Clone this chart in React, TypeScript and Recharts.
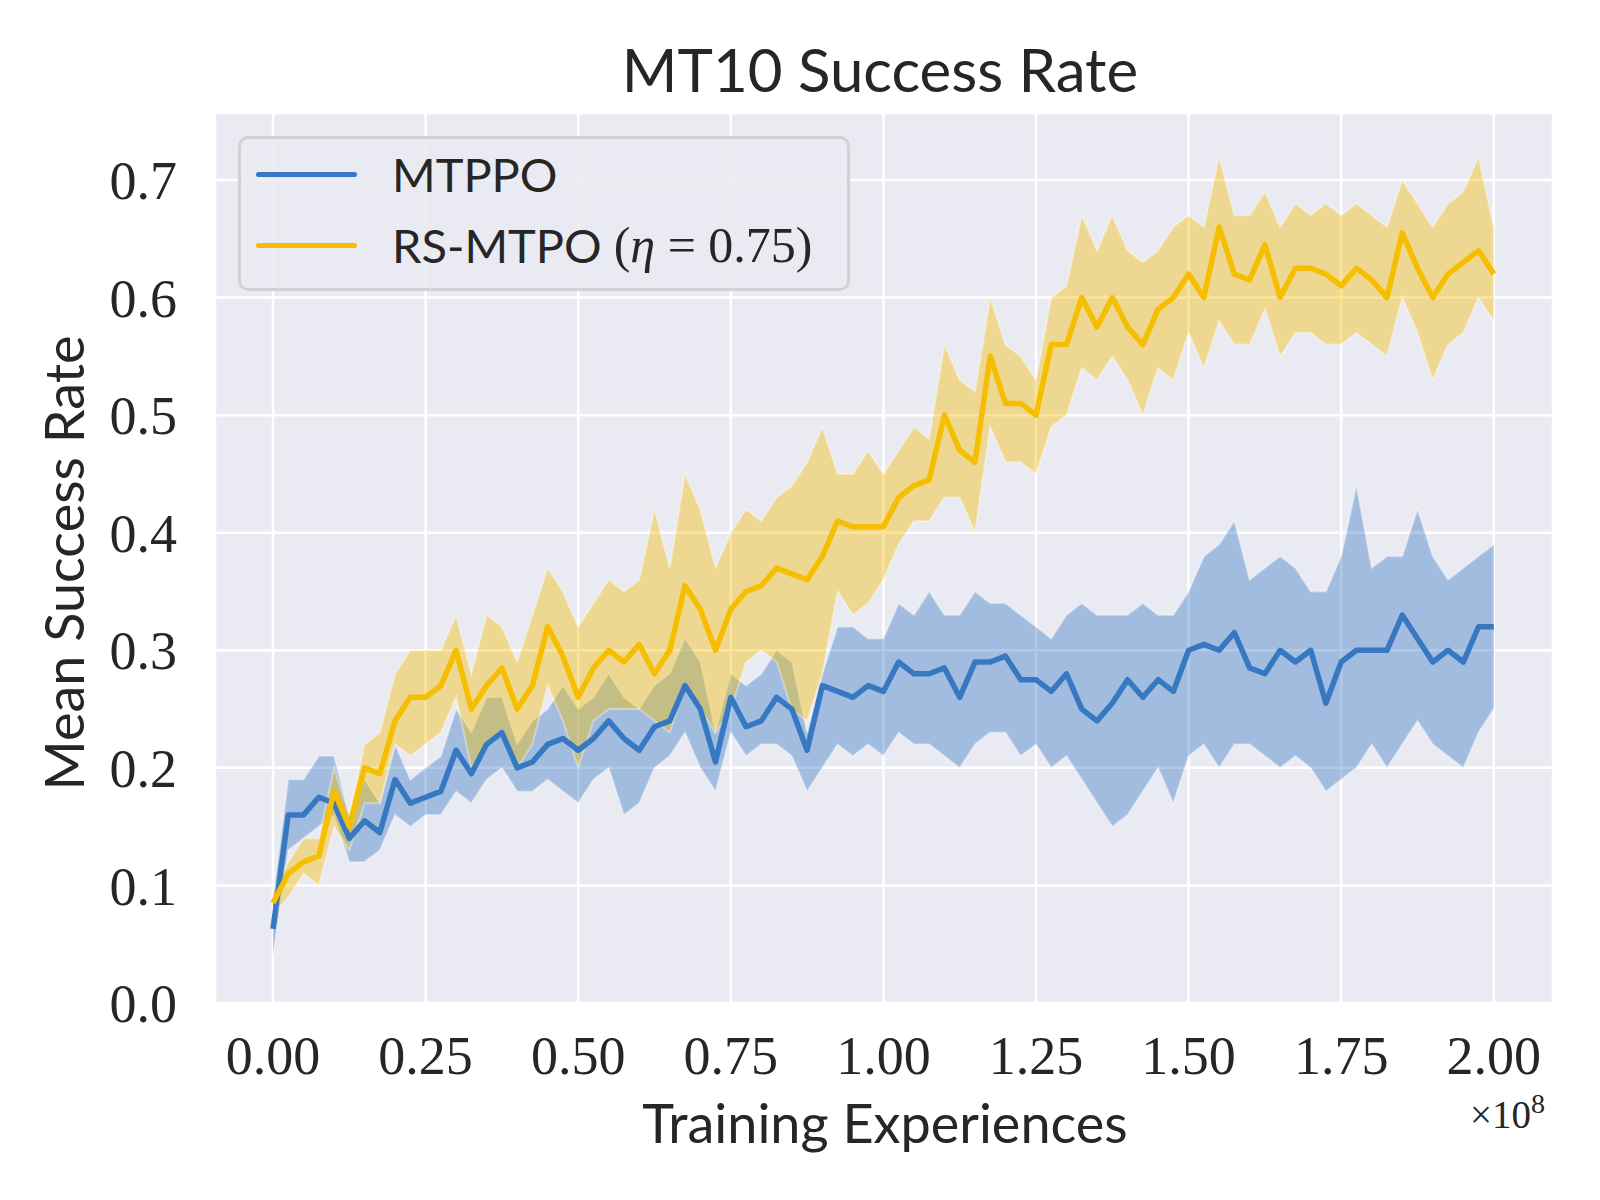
import React from 'react';
import { ComposedChart, Area, Line, XAxis, YAxis, CartesianGrid, Customized } from 'recharts';

// training experiences, in units of 1e8
const STEPS = [
  0, 0.025, 0.05, 0.075, 0.1, 0.125, 0.15, 0.175, 0.2, 0.225,
  0.25, 0.275, 0.3, 0.325, 0.35, 0.375, 0.4, 0.425, 0.45, 0.475,
  0.5, 0.525, 0.55, 0.575, 0.6, 0.625, 0.65, 0.675, 0.7, 0.725,
  0.75, 0.775, 0.8, 0.825, 0.85, 0.875, 0.9, 0.925, 0.95, 0.975,
  1.0, 1.025, 1.05, 1.075, 1.1, 1.125, 1.15, 1.175, 1.2, 1.225,
  1.25, 1.275, 1.3, 1.325, 1.35, 1.375, 1.4, 1.425, 1.45, 1.475,
  1.5, 1.525, 1.55, 1.575, 1.6, 1.625, 1.65, 1.675, 1.7, 1.725,
  1.75, 1.775, 1.8, 1.825, 1.85, 1.875, 1.9, 1.925, 1.95, 1.975, 2.0,
];

const MTPPO_MEAN = [
  0.063, 0.16, 0.16, 0.175, 0.17, 0.14, 0.155, 0.145, 0.19, 0.17,
  0.175, 0.18, 0.215, 0.195, 0.22, 0.23, 0.2, 0.205, 0.22, 0.225,
  0.215, 0.225, 0.24, 0.225, 0.215, 0.235, 0.24, 0.27, 0.25, 0.205,
  0.26, 0.235, 0.24, 0.26, 0.25, 0.215, 0.27, 0.265, 0.26, 0.27,
  0.265, 0.29, 0.28, 0.28, 0.285, 0.26, 0.29, 0.29, 0.295, 0.275,
  0.275, 0.265, 0.28, 0.25, 0.24, 0.255, 0.275, 0.26, 0.275, 0.265,
  0.3, 0.305, 0.3, 0.315, 0.285, 0.28, 0.3, 0.29, 0.3, 0.255,
  0.29, 0.3, 0.3, 0.3, 0.33, 0.31, 0.29, 0.3, 0.29, 0.32, 0.32,
];
const MTPPO_LO = [
  0.04, 0.13, 0.14, 0.15, 0.16, 0.12, 0.12, 0.13, 0.16, 0.15,
  0.16, 0.16, 0.18, 0.17, 0.19, 0.2, 0.18, 0.18, 0.19, 0.18,
  0.17, 0.19, 0.2, 0.16, 0.17, 0.2, 0.21, 0.23, 0.2, 0.18,
  0.23, 0.21, 0.22, 0.22, 0.21, 0.18, 0.2, 0.22, 0.21, 0.22,
  0.21, 0.23, 0.22, 0.22, 0.21, 0.2, 0.22, 0.23, 0.23, 0.21,
  0.22, 0.2, 0.21, 0.19, 0.17, 0.15, 0.16, 0.18, 0.2, 0.17,
  0.21, 0.22, 0.2, 0.22, 0.22, 0.21, 0.2, 0.21, 0.2, 0.18,
  0.19, 0.2, 0.22, 0.2, 0.22, 0.24, 0.22, 0.21, 0.2, 0.23, 0.25,
];
const MTPPO_HI = [
  0.09, 0.19, 0.19, 0.21, 0.21, 0.16, 0.19, 0.17, 0.22, 0.19,
  0.2, 0.21, 0.25, 0.23, 0.26, 0.26, 0.22, 0.24, 0.25, 0.27,
  0.25, 0.26, 0.28, 0.26, 0.25, 0.27, 0.28, 0.31, 0.29, 0.23,
  0.28, 0.27, 0.28, 0.3, 0.29, 0.23, 0.28, 0.32, 0.32, 0.31,
  0.31, 0.34, 0.33, 0.35, 0.33, 0.33, 0.35, 0.34, 0.34, 0.33,
  0.32, 0.31, 0.33, 0.34, 0.33, 0.33, 0.33, 0.34, 0.33, 0.33,
  0.35, 0.38, 0.39, 0.41, 0.36, 0.37, 0.38, 0.37, 0.35, 0.35,
  0.38, 0.44, 0.37, 0.38, 0.38, 0.42, 0.38, 0.36, 0.37, 0.38, 0.39,
];

const RS_MEAN = [
  0.085, 0.11, 0.12, 0.125, 0.18, 0.15, 0.2, 0.195, 0.24, 0.26,
  0.26, 0.27, 0.3, 0.25, 0.27, 0.285, 0.25, 0.27, 0.32, 0.295,
  0.26, 0.285, 0.3, 0.29, 0.305, 0.28, 0.3, 0.355, 0.335, 0.3,
  0.335, 0.35, 0.355, 0.37, 0.365, 0.36, 0.38, 0.41, 0.405, 0.405,
  0.405, 0.43, 0.44, 0.445, 0.5, 0.47, 0.46, 0.55, 0.51, 0.51,
  0.5, 0.56, 0.56, 0.6, 0.575, 0.6, 0.575, 0.56, 0.59, 0.6,
  0.62, 0.6, 0.66, 0.62, 0.615, 0.645, 0.6, 0.625, 0.625, 0.62,
  0.61, 0.625, 0.615, 0.6, 0.655, 0.625, 0.6, 0.62, 0.63, 0.64, 0.62,
];
const RS_LO = [
  0.075, 0.09, 0.11, 0.1, 0.15, 0.13, 0.17, 0.17, 0.22, 0.21,
  0.22, 0.23, 0.26, 0.2, 0.22, 0.23, 0.2, 0.22, 0.27, 0.24,
  0.2, 0.24, 0.25, 0.25, 0.25, 0.24, 0.23, 0.27, 0.25, 0.23,
  0.25, 0.29, 0.3, 0.29, 0.25, 0.24, 0.28, 0.35, 0.33, 0.34,
  0.36, 0.39, 0.41, 0.41, 0.43, 0.43, 0.4, 0.49, 0.46, 0.46,
  0.45, 0.49, 0.5, 0.54, 0.53, 0.55, 0.53, 0.5, 0.54, 0.53,
  0.57, 0.54, 0.58, 0.56, 0.56, 0.59, 0.55, 0.57, 0.57, 0.56,
  0.56, 0.57, 0.56, 0.55, 0.6, 0.57, 0.53, 0.56, 0.57, 0.6, 0.58,
];
const RS_HI = [
  0.095, 0.12, 0.14, 0.14, 0.2, 0.16, 0.22, 0.23, 0.28, 0.3,
  0.3, 0.3, 0.33, 0.28, 0.33, 0.32, 0.29, 0.33, 0.37, 0.35,
  0.32, 0.34, 0.36, 0.35, 0.36, 0.42, 0.37, 0.45, 0.42, 0.37,
  0.4, 0.42, 0.41, 0.43, 0.44, 0.46, 0.49, 0.45, 0.45, 0.47,
  0.45, 0.47, 0.49, 0.48, 0.56, 0.53, 0.52, 0.6, 0.56, 0.55,
  0.53, 0.6, 0.61, 0.67, 0.64, 0.67, 0.64, 0.63, 0.64, 0.66,
  0.67, 0.66, 0.72, 0.67, 0.67, 0.69, 0.66, 0.68, 0.67, 0.68,
  0.67, 0.68, 0.67, 0.66, 0.7, 0.68, 0.66, 0.68, 0.69, 0.72, 0.66,
];

const X_TICKS = [0, 0.25, 0.5, 0.75, 1.0, 1.25, 1.5, 1.75, 2.0];
const Y_TICKS = [0, 0.1, 0.2, 0.3, 0.4, 0.5, 0.6, 0.7];

const BLUE = '#3778C2';
const GOLD = '#F5BE00';
const INK = '#262626';
const SANS = 'Lato, "Open Sans", sans-serif';
const SERIF = '"Liberation Serif", "DejaVu Serif", serif';

const data = STEPS.map((t, i) => ({
  t,
  mtppo: MTPPO_MEAN[i],
  mtppoBand: [MTPPO_LO[i], MTPPO_HI[i]],
  rs: RS_MEAN[i],
  rsBand: [RS_LO[i], RS_HI[i]],
}));

const LEGEND_ROWS = [
  { color: BLUE, name: 'MTPPO', math: '' },
  { color: GOLD, name: 'RS-MTPO', math: '0.75' },
];

const LegendBox = () => (
  <div
    style={{
      position: 'absolute',
      left: 238,
      top: 136,
      width: 612,
      height: 155,
      boxSizing: 'border-box',
      background: 'rgba(234,234,242,0.85)',
      border: '3px solid #d2d2d6',
      borderRadius: 10,
      fontFamily: SANS,
      fontSize: 47,
      color: INK,
    }}
  >
    {LEGEND_ROWS.map((row, i) => (
      <div
        key={row.name}
        style={{ position: 'absolute', left: 0, top: i === 0 ? 2 : 73, height: 66, display: 'flex', alignItems: 'center' }}
      >
        <div style={{ width: 101, height: 5, borderRadius: 3, background: row.color, marginLeft: 15, marginRight: 35 }} />
        <span>{row.name}</span>
        {row.math && (
          <span style={{ fontFamily: SERIF, fontSize: 50, marginLeft: 12 }}>
            (<i>η</i> = {row.math})
          </span>
        )}
      </div>
    ))}
  </div>
);

const Labels = () => (
  <g>
    <text x={880} y={92} textAnchor="middle" fontFamily={SANS} fontSize={60} fill={INK}>
      MT10 Success Rate
    </text>
    <text x={885} y={1143} textAnchor="middle" fontFamily={SANS} fontSize={54} fill={INK}>
      Training Experiences
    </text>
    <text
      x={84}
      y={563}
      textAnchor="middle"
      fontFamily={SANS}
      fontSize={54}
      fill={INK}
      transform="rotate(-90 84 563)"
    >
      Mean Success Rate
    </text>
    <text x={1470} y={1128} fontFamily={SERIF} fontSize={39} fill={INK}>
      ×10
      <tspan dy={-15} fontSize={28}>8</tspan>
    </text>
  </g>
);

export default function App() {
  return (
    <div style={{ position: 'absolute', left: 0, top: 0, width: 1600, height: 1200, background: '#fff' }}>
      <ComposedChart
        width={1600}
        height={1200}
        data={data}
        margin={{ top: 113, right: 47, left: 115, bottom: 117 }}
      >
        <CartesianGrid fill="#EAEAF2" stroke="#ffffff" strokeWidth={2.5} />
        <XAxis
          dataKey="t"
          type="number"
          domain={[-0.095, 2.097]}
          ticks={X_TICKS}
          tickFormatter={(v: number) => v.toFixed(2)}
          allowDataOverflow
          axisLine={false}
          tickLine={false}
          tickSize={0}
          tickMargin={33}
          height={80}
          tick={{ fontFamily: SERIF, fontSize: 54, fill: INK }}
          interval={0}
        />
        <YAxis
          type="number"
          domain={[0, 0.757]}
          ticks={Y_TICKS}
          tickFormatter={(v: number) => v.toFixed(1)}
          allowDataOverflow
          axisLine={false}
          tickLine={false}
          tickSize={0}
          tickMargin={38}
          width={100}
          tick={{ fontFamily: SERIF, fontSize: 54, fill: INK }}
          interval={0}
        />
        <Area
          dataKey="mtppoBand"
          type="linear"
          fill={BLUE}
          fillOpacity={0.4}
          stroke="rgba(255,255,255,0.35)"
          strokeWidth={2}
          isAnimationActive={false}
          activeDot={false}
        />
        <Line
          dataKey="mtppo"
          type="linear"
          stroke={BLUE}
          strokeWidth={5.5}
          strokeLinejoin="round"
          dot={false}
          isAnimationActive={false}
        />
        <Area
          dataKey="rsBand"
          type="linear"
          fill={GOLD}
          fillOpacity={0.4}
          stroke="rgba(255,255,255,0.35)"
          strokeWidth={2}
          isAnimationActive={false}
          activeDot={false}
        />
        <Line
          dataKey="rs"
          type="linear"
          stroke={GOLD}
          strokeWidth={5.5}
          strokeLinejoin="round"
          dot={false}
          isAnimationActive={false}
        />
        <Customized component={Labels} />
      </ComposedChart>
      <LegendBox />
    </div>
  );
}
